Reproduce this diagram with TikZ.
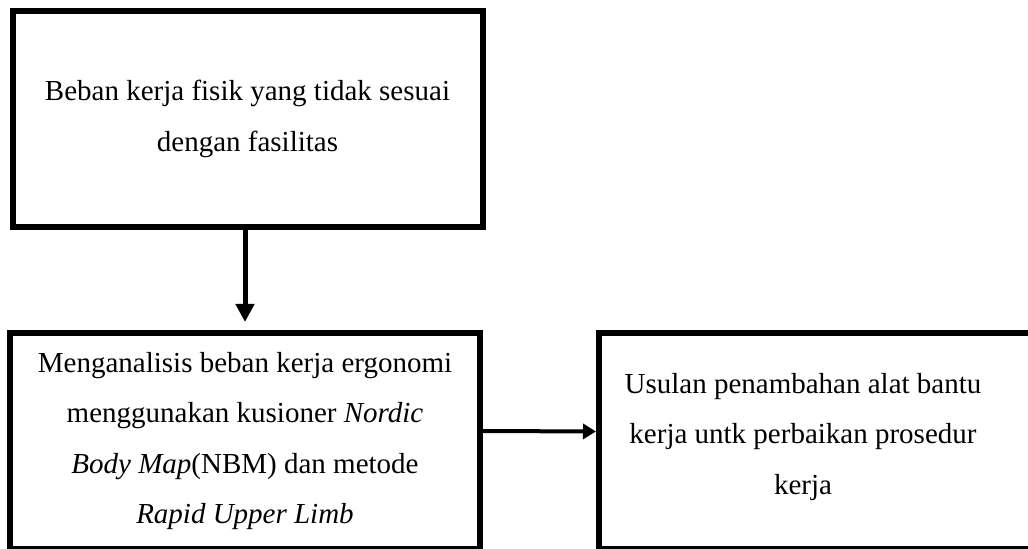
\documentclass[tikz,border=0pt]{standalone}
\usepackage{fontspec}
\setmainfont{Liberation Serif}
\usepackage{tikz}
\usetikzlibrary{arrows.meta}

\begin{document}
\begin{tikzpicture}[x=0.5pt, y=-0.5pt,
  box/.style={rectangle, draw, line width=3pt, inner sep=0pt,
              minimum width=235pt, minimum height=108pt},
  txt/.style={align=center, font=\fontsize{14.5}{25.2}\selectfont},
  down/.style={-{Triangle[length=9pt,width=9pt]}, line width=2.5pt},
  right/.style={-{Triangle[length=6.5pt,width=7.5pt]}, line width=2pt}]
\clip (0,0) rectangle (1028,549);
\node[box, txt] (beban) at (247.5,119) {Beban kerja fisik yang tidak sesuai\\dengan fasilitas};
\node[box, txt] (analisis) at (245,441) {Menganalisis beban kerja ergonomi\\menggunakan kusioner \textit{Nordic}\\\textit{Body Map}(NBM) dan metode\\\textit{Rapid Upper Limb}};
\node[box, anchor=west, minimum width=240pt] (usulan) at (596,441.5) {};
\node[txt] (usulantxt) at (803,437) {Usulan penambahan alat bantu\\kerja untk perbaikan prosedur\\kerja};
% connectors
\draw[down, shorten >=4pt] (analisis.north |- beban.south) -- (analisis.north);
\draw[right] ([yshift=5pt]analisis.east) -- ([yshift=5pt]usulan.west);
\end{tikzpicture}
\end{document}
